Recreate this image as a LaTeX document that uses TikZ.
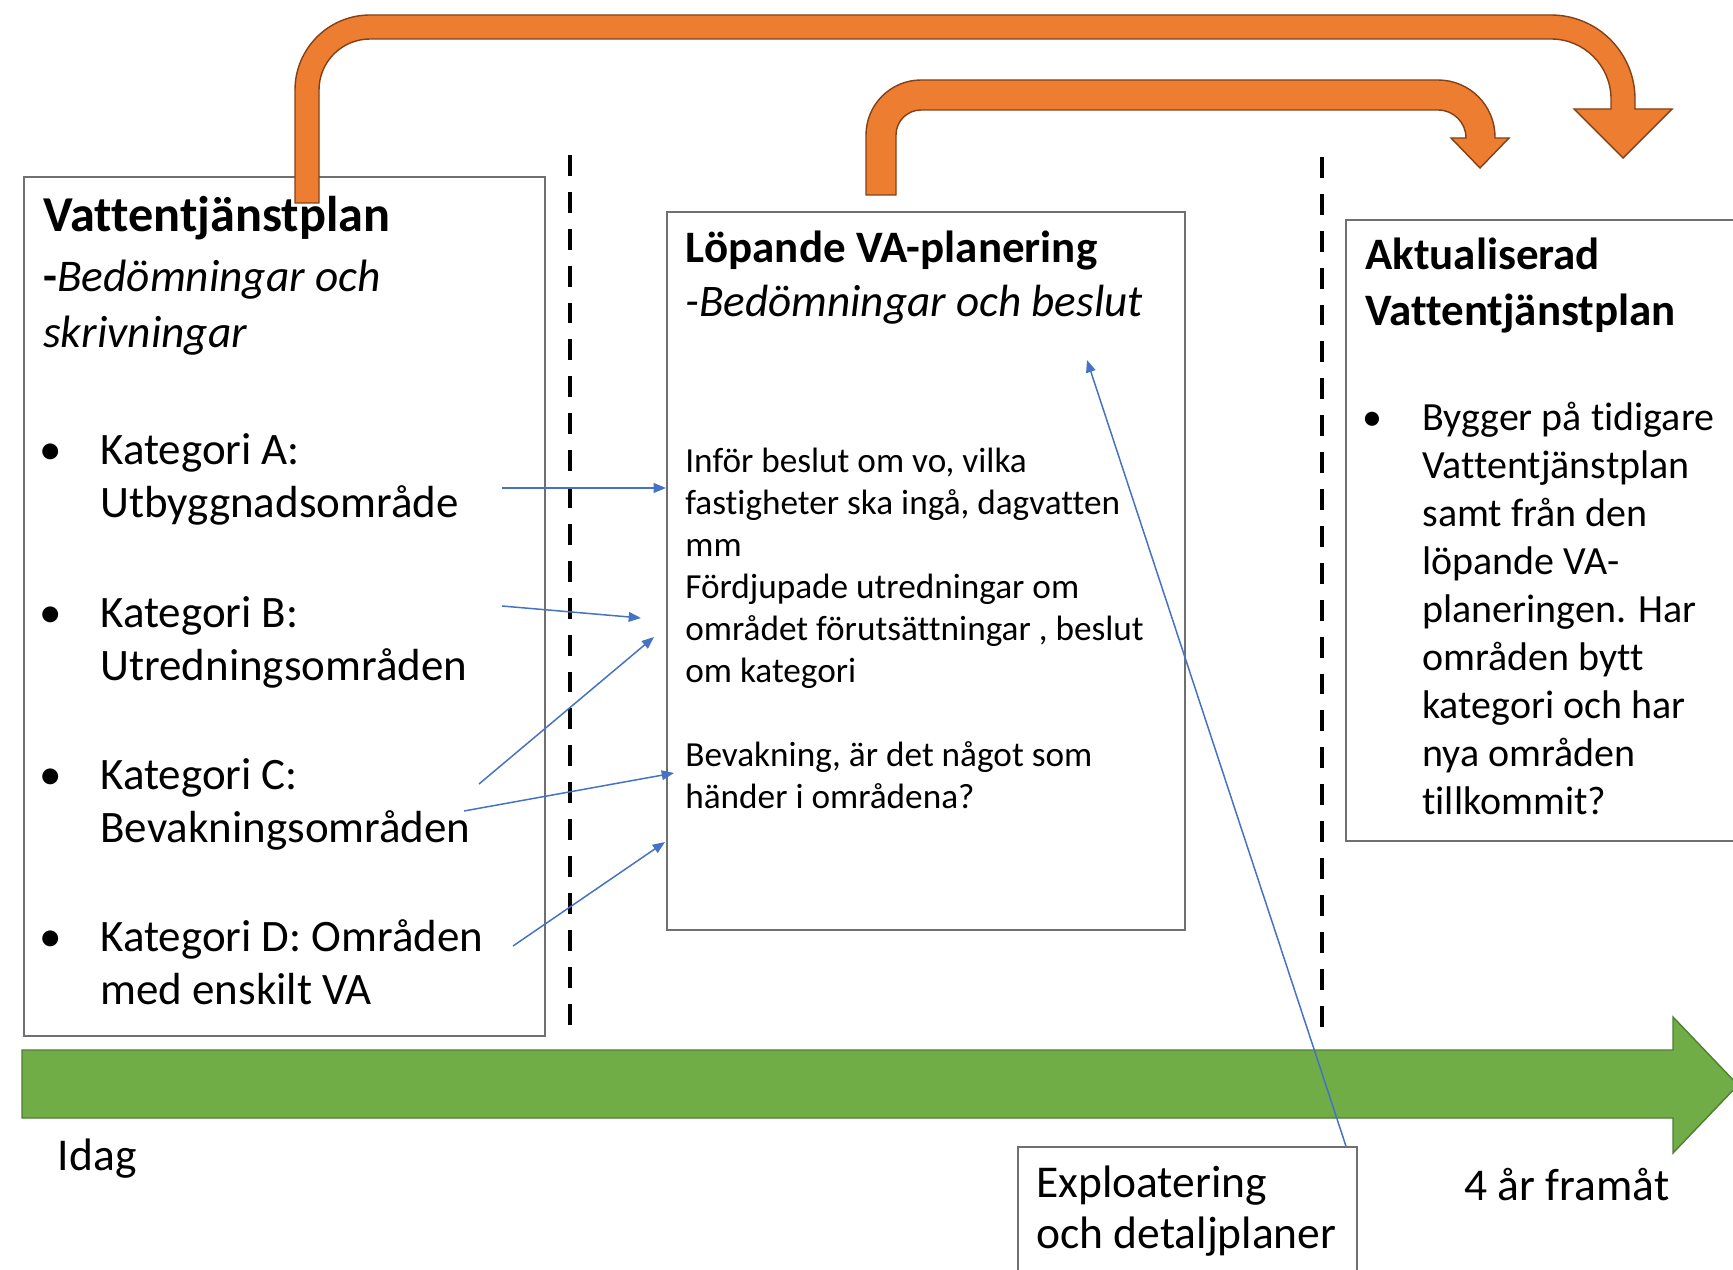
\documentclass[tikz,border=0pt]{standalone}
\usepackage{fontspec}
\setmainfont{Carlito}[Ligatures=NoCommon]
\usetikzlibrary{arrows.meta}

\definecolor{vaorange}{RGB}{237,125,49}
\definecolor{vaorangekant}{RGB}{132,64,22}
\definecolor{vagron}{RGB}{112,173,71}
\definecolor{vagronkant}{RGB}{80,126,50}
\definecolor{vabla}{RGB}{68,114,196}
\definecolor{varam}{RGB}{112,112,112}

\tikzset{
    ruta/.style={draw=varam, line width=1.1pt, inner sep=0pt},
    rad/.style={anchor=base west, inner sep=0pt},
    pil/.style={vabla, line width=0.85pt, -{Triangle[length=7pt,width=5.5pt]}},
    bage/.style={fill=vaorange, draw=vaorangekant, line width=0.8pt},
    tidslinje/.style={fill=vagron, draw=vagronkant, line width=0.8pt},
    streck/.style={line width=2.8pt, dash pattern=on 11.9pt off 9.1pt}
}

\begin{document}
\begin{tikzpicture}[x=0.02cm, y=-0.02cm]
    \useasboundingbox (0,0) rectangle (1733,1270);
    \clip (0,0) rectangle (1733,1270);

    \node[ruta, minimum width=10.42cm, minimum height=17.18cm] at (284.5, 606.5)(vtp) {};
    \node[ruta, minimum width=10.36cm, minimum height=14.36cm] at (926, 571)(lop) {};
    \node[ruta, minimum width=8.4cm, minimum height=12.42cm] at (1556, 530.5)(akt) {};
    \node[ruta, minimum width=6.78cm, minimum height=3.06cm] at (1187.5, 1223.5)(expl) {};

    \draw[streck] (570,155) -- (570,1027);
    \draw[streck] (1322,157) -- (1322,1027);

    \path[tidslinje] (22,1050) -- (1673,1050) -- (1673,1017) -- (1738,1085)
        -- (1673,1153) -- (1673,1118) -- (22,1118) -- cycle;

    \path[bage] (295,203) -- (295,90) arc[start angle=180, end angle=270, radius=75]
        -- (1551,15) arc[start angle=270, end angle=360, radius=84]
        -- (1635,109) -- (1672,109) -- (1623,158) -- (1574,109) -- (1611,109)
        -- (1611,99) arc[start angle=0, end angle=-90, radius=60]
        -- (370,39) arc[start angle=270, end angle=180, radius=51]
        -- (319,203) -- cycle;
    \path[bage] (866,195) -- (866,135) arc[start angle=180, end angle=270, radius=55]
        -- (1438,80) arc[start angle=270, end angle=360, radius=57]
        -- (1495,138) -- (1509,138) -- (1480,168) -- (1451,138) -- (1466,138)
        -- (1466,138) arc[start angle=0, end angle=-90, radius=28]
        -- (921,110) arc[start angle=270, end angle=180, radius=25]
        -- (896,195) -- cycle;

    \node[rad, font=\fontsize{28.6}{34}\selectfont\bfseries] at (43, 232)(vtprubrik) {Vattentjänstplan};
    \node[rad, font=\fontsize{25.8}{31}\selectfont\itshape] at (43, 292)(vtpunder1) {{\upshape\bfseries -}Bedömningar och};
    \node[rad, font=\fontsize{25.8}{31}\selectfont\itshape] at (43, 347)(vtpunder2) {skrivningar};
    \foreach \y/\namn/\forsta/\andra in {464/a/Kategori A:/Utbyggnadsområde,
        627/b/Kategori B:/Utredningsområden, 789/c/Kategori C:/Bevakningsområden,
        951/d/Kategori D: Områden/med enskilt VA}
    {
        \node[rad, font=\fontsize{25.6}{31}\selectfont] at (39, \y)(punkt\namn) {\textbullet};
        \node[rad, font=\fontsize{25.6}{31}\selectfont] at (100, \y)(kat\namn1) {\forsta};
        \node[rad, font=\fontsize{25.6}{31}\selectfont] at (100, \y+53)(kat\namn2) {\andra};
    }

    \node[rad, font=\fontsize{25.6}{31}\selectfont\bfseries] at (685, 263)(loprubrik) {Löpande VA-planering};
    \node[rad, font=\fontsize{25.7}{31}\selectfont\itshape] at (685, 316.5)(lopunder) {-Bedömningar och beslut};
    \foreach \y/\txt [count=\i] in {472/{Inför beslut om vo, vilka}, 514/{fastigheter ska ingå, dagvatten},
        556/mm, 598/Fördjupade utredningar om, 640/{området förutsättningar , beslut},
        682/om kategori, 766/{Bevakning, är det något som}, 808/händer i områdena?}
    {
        \node[rad, font=\fontsize{20.05}{24}\selectfont] at (685, \y)(loprad\i) {\txt};
    }

    \node[rad, font=\fontsize{25.6}{31}\selectfont\bfseries] at (1365, 270)(aktrubrik1) {Aktualiserad};
    \node[rad, font=\fontsize{25.6}{31}\selectfont\bfseries] at (1365, 325)(aktrubrik2) {Vattentjänstplan};
    \node[rad, font=\fontsize{22.75}{27}\selectfont] at (1362, 430)(aktpunkt) {\textbullet};
    \foreach \txt [count=\i] in {Bygger på tidigare, Vattentjänstplan, samt från den, löpande VA-,
        planeringen. Har, områden bytt, kategori och har, nya områden, tillkommit?}
    {
        \node[rad, font=\fontsize{22.75}{27}\selectfont] at (1422, 382+48*\i)(aktrad\i) {\txt};
    }

    \node[rad, font=\fontsize{25.9}{31}\selectfont] at (57.5, 1170)(idag) {Idag};
    \node[rad, font=\fontsize{25.9}{31}\selectfont] at (1464, 1200)(framat) {4 år framåt};
    \node[rad, font=\fontsize{25.9}{31}\selectfont] at (1036, 1197)(explrad1) {Exploatering};
    \node[rad, font=\fontsize{25.9}{31}\selectfont] at (1036, 1248)(explrad2) {och detaljplaner};

    \coordinate (franA) at (502, 488);
    \coordinate (tillA) at (666, 488);
    \coordinate (franB) at (502, 606);
    \coordinate (tillB) at (641, 618);
    \coordinate (franC1) at (479, 784);
    \coordinate (tillC1) at (654, 637);
    \coordinate (franC2) at (464, 811);
    \coordinate (tillC2) at (674, 773);
    \coordinate (franD) at (513, 946);
    \coordinate (tillD) at (665, 842);
    \coordinate (tillE) at (1087, 360);

    \draw[pil] (franA) -- (tillA);
    \draw[pil] (franB) -- (tillB);
    \draw[pil] (franC1) -- (tillC1);
    \draw[pil] (franC2) -- (tillC2);
    \draw[pil] (franD) -- (tillD);
    \draw[pil] ([xshift=-0.24cm]expl.north east) -- (tillE);

\end{tikzpicture}
\end{document}
